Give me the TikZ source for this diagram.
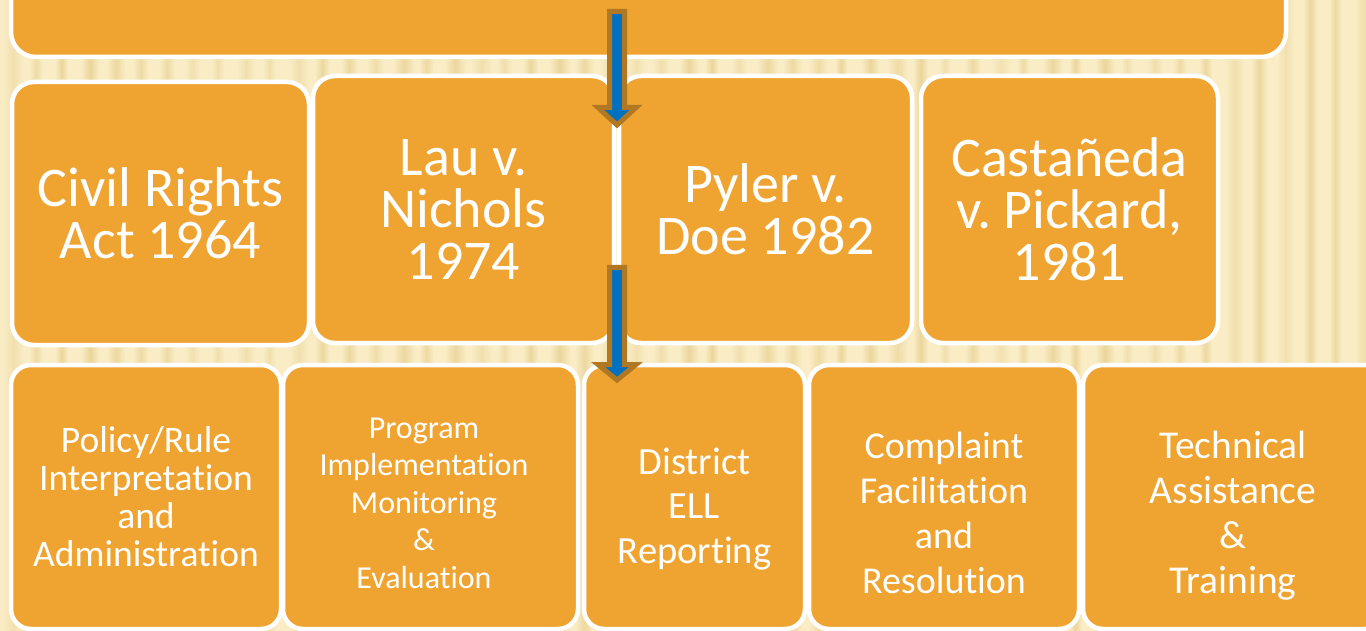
\documentclass[tikz,border=0pt]{standalone}
\usepackage{fontspec}
\setmainfont{Carlito}[Ligatures=NoCommon]
\frenchspacing
\definecolor{boxorange}{RGB}{239,163,48}
\definecolor{arrowblue}{RGB}{0,112,192}
\definecolor{arrowbrown}{RGB}{176,120,34}
\definecolor{cream}{RGB}{250,237,198}
\definecolor{creamdark}{RGB}{234,213,154}
\begin{document}
\begin{tikzpicture}[x=1pt,y=-1pt,
  box/.style={fill=boxorange, draw=white, line width=4.5pt, rounded corners=22pt,
              inner sep=0pt},
  lowbox/.style={box, rounded corners=20pt, minimum height=264pt},
  label/.style={text=white, align=center, inner sep=0pt},
  midtext/.style={label, font=\fontsize{56}{52}\selectfont},
  arrowshape/.style={fill=arrowblue, draw=arrowbrown, line width=5pt, line join=miter}]
\useasboundingbox (0,0) rectangle (1366,631);
\clip (0,0) rectangle (1366,631);

% striped cream backdrop with soft, uneven bands
\fill[cream] (0,0) rectangle (1366,631);
\pgfmathsetseed{7}
\foreach \k in {0,...,52}{
  \pgfmathsetmacro{\bw}{12+10*rnd}
  \pgfmathsetmacro{\bo}{0.45+0.55*rnd}
  \shade[left color=cream, right color=cream, middle color=creamdark, opacity=\bo]
    (\k*26+3,0) rectangle ++(\bw,631);
}

% heading bar
\node[box, rounded corners=25pt, minimum width=1275pt, minimum height=97pt]
  (heading) at (648.5,8.5) {};

% legal milestones
\node[box, minimum width=297pt, minimum height=263pt] (civil) at (160.5,213.5) {};
\node[box, minimum width=301pt, minimum height=267pt] (lau) at (463.5,209.5) {};
\node[box, minimum width=293pt, minimum height=267pt] (pyler) at (765.5,209.5) {};
\node[box, minimum width=297pt, minimum height=267pt] (castaneda) at (1069.5,209.5) {};

\node[midtext] (civiltxt) at (civil.center) {Civil Rights\\Act 1964};
\node[midtext] (lautxt) at (lau.center) {Lau v.\\Nichols\\1974};
\node[midtext] (pylertxt) at (pyler.center) {Pyler v.\\Doe 1982};
\node[midtext] (castanedatxt) at (castaneda.center) {Castañeda\\v. Pickard,\\1981};

% office functions
\node[lowbox, minimum width=270pt] (policy) at (146,497) {};
\node[lowbox, minimum width=295pt] (program) at (430.5,497) {};
\node[lowbox, minimum width=221pt] (district) at (694.5,497) {};
\node[lowbox, minimum width=270pt] (complaint) at (944,497) {};
\node[lowbox, minimum width=302pt] (technical) at (1234,497) {};

\node[label, font=\fontsize{37.5}{38}\selectfont] (policytxt) at (146,497)
  {Policy/Rule\\Interpretation\\and\\Administration};
\node[label, font=\fontsize{32}{37.5}\selectfont] (programtxt) at (424,503)
  {Program\\Implementation\\Monitoring\\\&\\Evaluation};
\node[label, font=\fontsize{38.5}{44.5}\selectfont] (districttxt) at (694.5,509)
  {District\\ELL\\Reporting};
\node[label, font=\fontsize{38}{45}\selectfont] (complainttxt) at (944,512.5)
  {Complaint\\Facilitation\\and\\Resolution};
\node[label, font=\fontsize{39.5}{45}\selectfont] (technicaltxt) at (1233,516)
  {Technical\\Assistance\\\&\\Training};

% downward block arrows
\coordinate (arrowAtop) at (617,11.5);
\coordinate (arrowAtip) at (617,125);
\coordinate (arrowBtop) at (617,267.5);
\coordinate (arrowBtip) at (617,380);
\draw[arrowshape] (arrowAtop) ++(-7.5,0) -- ++(15,0) -- ++(0,96) -- ++(11.5,0)
  -- (arrowAtip) -- ++(-19,-17.5) -- ++(11.5,0) -- cycle;
\draw[arrowshape] (arrowBtop) ++(-7.5,0) -- ++(15,0) -- ++(0,97) -- ++(11.5,0)
  -- (arrowBtip) -- ++(-19,-15.5) -- ++(11.5,0) -- cycle;
\end{tikzpicture}
\end{document}
